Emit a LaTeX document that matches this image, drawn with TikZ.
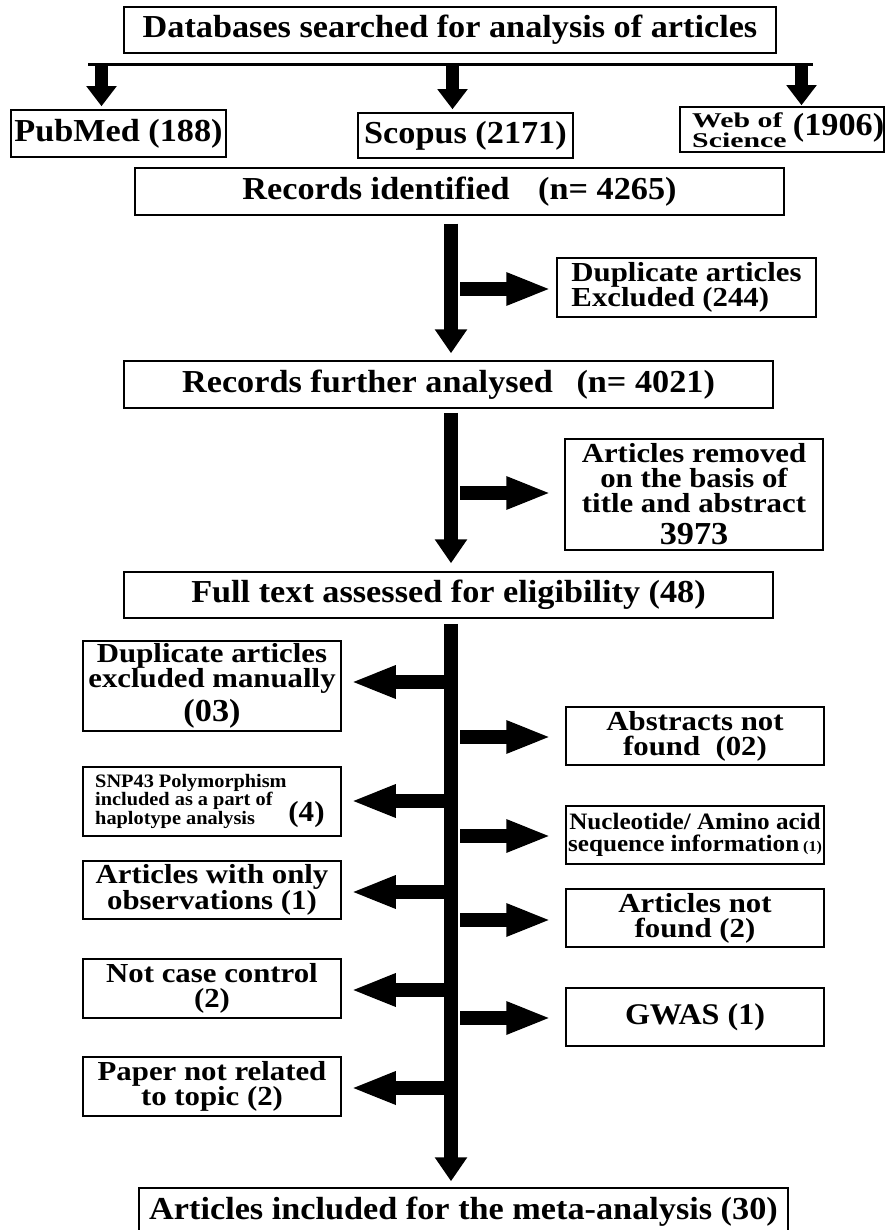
\documentclass[tikz,border=0pt]{standalone}
\usepackage{fontspec}
\setmainfont{Liberation Serif}[FakeStretch=1.07]
\newfontfamily\secfont{Liberation Serif}[FakeStretch=1.12]
\newfontfamily\wosfont{Liberation Serif}[FakeStretch=1.42]
\usetikzlibrary{arrows.meta}
\newcommand\mainsz{\rmfamily\fontsize{32}{32}\selectfont}
\newcommand\secsz{\secfont\fontsize{27.5}{25}\selectfont}
\begin{document}
\begin{tikzpicture}[x=1pt,y=-1pt,
  box/.style={draw=black, line width=1.5pt, fill=white, inner sep=0pt, align=center, font=\secsz\bfseries},
  mainbox/.style={box, font=\mainsz\bfseries},
  txt/.style={inner sep=0pt, align=left, font=\secsz\bfseries},
  sharrow/.style={line width=13pt, -{Triangle[length=20pt,width=29pt]}},
  varrow/.style={line width=14pt, -{Triangle[length=24pt,width=31pt]}},
  harrow/.style={line width=14pt, -{Triangle[length=45pt,width=30pt]}}]
\useasboundingbox (0,0) rectangle (885,1230);
\fill[white] (0,0) rectangle (885,1230);

% top level
\node[mainbox, minimum width=652pt, minimum height=46pt] (db) at (450,30) {Databases searched for analysis of articles};
\node[mainbox, minimum width=215pt, minimum height=47pt] (pub) at (118.5,133.5) {PubMed (188)};
\node[mainbox, minimum width=215pt, minimum height=45pt] (sco) at (465.5,135.5) {Scopus (2171)};
\node[box, minimum width=204pt, minimum height=45pt] (wos) at (782,129.5) {};
\node[txt, anchor=west, font=\wosfont\bfseries\fontsize{21}{19.5}\selectfont] (wost) at (692,130) {Web of\\Science};
\node[txt, font=\mainsz\bfseries] (wosn) at (838.5,128) {(1906)};
\node[mainbox, minimum width=649pt, minimum height=47pt] (rec) at (459.5,191.5) {Records identified\hspace{20pt} (n= 4265)};

% bar and source arrows
\coordinate (barL) at (88,65);
\coordinate (barR) at (813,65);
\draw[line width=3pt] (barL) -- (barR);
\coordinate (pa) at (101.5,65);
\coordinate (sa) at (452.5,65);
\coordinate (wa) at (801.5,65);
\draw[sharrow, shorten >=3pt] (pa) -- (pa |- pub.north);
\draw[sharrow, shorten >=3pt] (sa) -- (sa |- sco.north);
\draw[sharrow, shorten >=1pt] (wa) -- (wa |- wos.north);

% main flow
\coordinate (axis) at (451,0);
\node[box, align=left, minimum width=259pt, minimum height=59pt] (dup) at (686.5,287.5) {Duplicate articles\\Excluded (244)};
\node[mainbox, minimum width=649pt, minimum height=47pt] (recf) at (448.5,384.5) {Records further analysed\hspace{15pt} (n= 4021)};
\node[box, minimum width=258pt, minimum height=111pt] (rem) at (694,494.5) {Articles removed\\on the basis of\\title and abstract\\[7pt]{\mainsz 3973}};
\node[mainbox, minimum width=649pt, minimum height=46pt] (full) at (448.5,595) {Full text assessed for eligibility (48)};

\draw[varrow, shorten <=8pt, shorten >=7pt] (rec.south -| axis) -- (recf.north -| axis);
\draw[varrow, shorten <=4pt, shorten >=8pt] (recf.south -| axis) -- (full.north -| axis);

\coordinate (ra1) at (460,289);
\coordinate (ra2) at (460,493);
\draw[harrow, shorten >=5pt] (ra1) -- (ra1 -| dup.west);
\draw[harrow, shorten >=13pt] (ra2) -- (ra2 -| rem.west);

% left exclusion boxes
\node[box, minimum width=258pt, minimum height=90pt] (l1) at (212,686) {Duplicate articles\\excluded manually\\[5pt]{\mainsz (03)}};
\node[box, minimum width=258pt, minimum height=69pt] (l2) at (212,801.5) {};
\node[txt, anchor=west, font=\rmfamily\bfseries\fontsize{19}{18.5}\selectfont] (l2t) at (95,801) {SNP43 Polymorphism\\ included as a part of\\ haplotype analysis};
\node[txt, font=\rmfamily\bfseries\fontsize{29}{29}\selectfont] (l2n) at (306.5,815) {(4)};
\node[box, minimum width=258pt, minimum height=58pt] (l3) at (212,890) {Articles with only\\observations (1)};
\node[box, minimum width=258pt, minimum height=59pt] (l4) at (212,988.5) {Not case control\\(2)};
\node[box, minimum width=258pt, minimum height=59pt] (l5) at (212,1086.5) {Paper not related\\to topic (2)};

% right exclusion boxes
\node[box, minimum width=258pt, minimum height=58pt] (r1) at (695,736) {Abstracts not\\found\ \ (02)};
\node[box, minimum width=258pt, minimum height=58pt, font=\rmfamily\bfseries\fontsize{23.5}{22}\selectfont] (r2) at (695,835) {Nucleotide/ Amino acid\\sequence information\,{\fontsize{15}{15}\selectfont(1)}};
\node[box, minimum width=258pt, minimum height=58pt] (r3) at (695,918) {Articles not\\found (2)};
\node[box, minimum width=258pt, minimum height=58pt, font=\rmfamily\bfseries\fontsize{30}{30}\selectfont] (r4) at (695,1017) {GWAS (1)};

% final
\node[mainbox, minimum width=649pt, minimum height=48pt] (final) at (463.5,1212) {Articles included for the meta-analysis (30)};

\draw[varrow, shorten <=5pt, shorten >=6pt] (full.south -| axis) -- (final.north -| axis);

% left arrows
\coordinate (la1) at (444,682);
\coordinate (la2) at (444,801);
\coordinate (la3) at (444,892);
\coordinate (la4) at (444,990);
\coordinate (la5) at (444,1088);
\draw[harrow, shorten >=9pt] (la1) -- (la1 -| l1.east);
\draw[harrow, shorten >=9pt] (la2) -- (la2 -| l2.east);
\draw[harrow, shorten >=9pt] (la3) -- (la3 -| l3.east);
\draw[harrow, shorten >=9pt] (la4) -- (la4 -| l4.east);
\draw[harrow, shorten >=9pt] (la5) -- (la5 -| l5.east);

% right arrows
\coordinate (rb1) at (460,737);
\coordinate (rb2) at (460,836);
\coordinate (rb3) at (460,920);
\coordinate (rb4) at (460,1018);
\draw[harrow, shorten >=14pt] (rb1) -- (rb1 -| r1.west);
\draw[harrow, shorten >=14pt] (rb2) -- (rb2 -| r2.west);
\draw[harrow, shorten >=14pt] (rb3) -- (rb3 -| r3.west);
\draw[harrow, shorten >=14pt] (rb4) -- (rb4 -| r4.west);
\end{tikzpicture}
\end{document}
